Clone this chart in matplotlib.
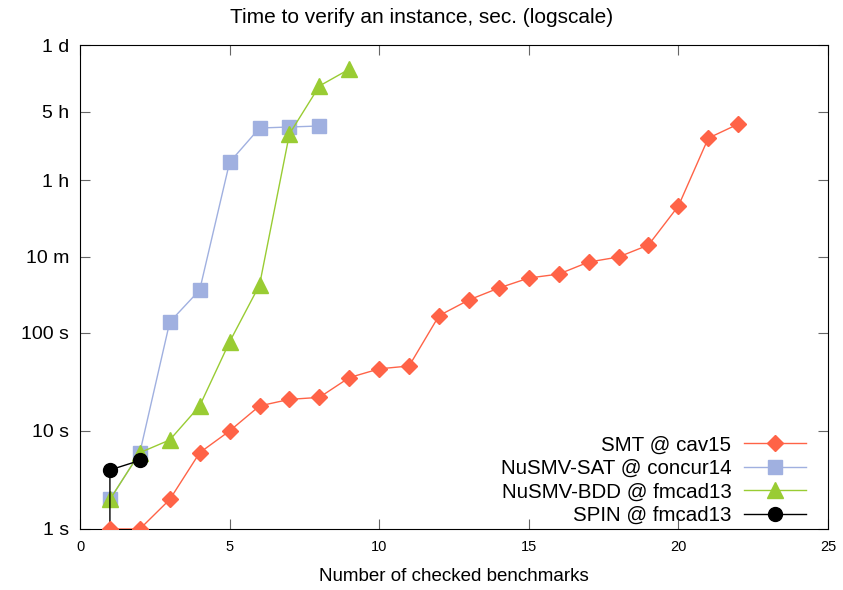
import matplotlib
matplotlib.use("Agg")
import matplotlib.pyplot as plt

plt.rcParams["font.family"] = ["Liberation Sans", "DejaVu Sans"]

# data (seconds)
smt_x = list(range(1, 23))
smt_y = [1, 1, 2, 6, 10, 18, 21, 22, 35, 43, 46, 150, 217, 287, 363, 398,
         528, 595, 788, 1970, 9700, 13500]

sat_x = list(range(1, 9))
sat_y = [2, 6, 129, 274, 5500, 12300, 12600, 12900]

bdd_x = list(range(1, 10))
bdd_y = [2, 6, 8.1, 18, 81, 308, 10700, 33000, 49000]

spin_x = [1, 1, 2]
spin_y = [1, 4, 5]

ytick_vals = [1, 10, 100, 600, 3600, 18000, 86400]
ytick_labels = ["1 s", "10 s", "100 s", "10 m", "1 h", "5 h", "1 d"]
xtick_vals = [0, 5, 10, 15, 20, 25]

fig = plt.figure(figsize=(8.43, 5.90), dpi=100)
ax = fig.add_axes([0.0949, 0.1034, 0.8873, 0.8203])

h_sat, = ax.plot(sat_x, sat_y, color="#a0b0e0", lw=1, marker="s", ms=10,
                 label="NuSMV-SAT @ concur14", zorder=2)
h_bdd, = ax.plot(bdd_x, bdd_y, color="#99cc33", lw=1, marker="^", ms=11,
                 label="NuSMV-BDD @ fmcad13", zorder=3)
h_spin, = ax.plot(spin_x, spin_y, color="black", lw=1, marker="o", ms=10,
                  markevery=[1, 2], label="SPIN @ fmcad13", zorder=4)
h_smt, = ax.plot(smt_x, smt_y, color="#ff6347", lw=1, marker="D", ms=8,
                 label="SMT @ cav15", zorder=5)

ax.set_yscale("log")
ax.set_xlim(0, 25)
ax.set_ylim(1, 86400)
ax.set_yticks(ytick_vals)
ax.set_yticklabels(ytick_labels, fontsize=14)
ax.minorticks_off()
ax.set_xticks(xtick_vals)
ax.tick_params(axis="x", labelsize=10.5, pad=8)
ax.tick_params(direction="in", top=True, right=True, length=7, color="#666666")
ax.tick_params(axis="y", pad=8)

# title is centred on the whole figure, not the axes
fig.text(0.5, 0.97, "Time to verify an instance, sec. (logscale)",
         fontsize=15, ha="center", va="center")
ax.set_xlabel("Number of checked benchmarks", fontsize=13.5, labelpad=10)

ax.legend(handles=[h_smt, h_sat, h_bdd, h_spin], loc="lower right",
          bbox_to_anchor=(1 - 18 / 748, 0.0),
          markerfirst=False, frameon=False, fontsize=14.8, handlelength=3.0,
          labelspacing=0.22, borderaxespad=0.0, borderpad=0.2,
          handletextpad=0.63)

fig.savefig("out.png", dpi=100)
